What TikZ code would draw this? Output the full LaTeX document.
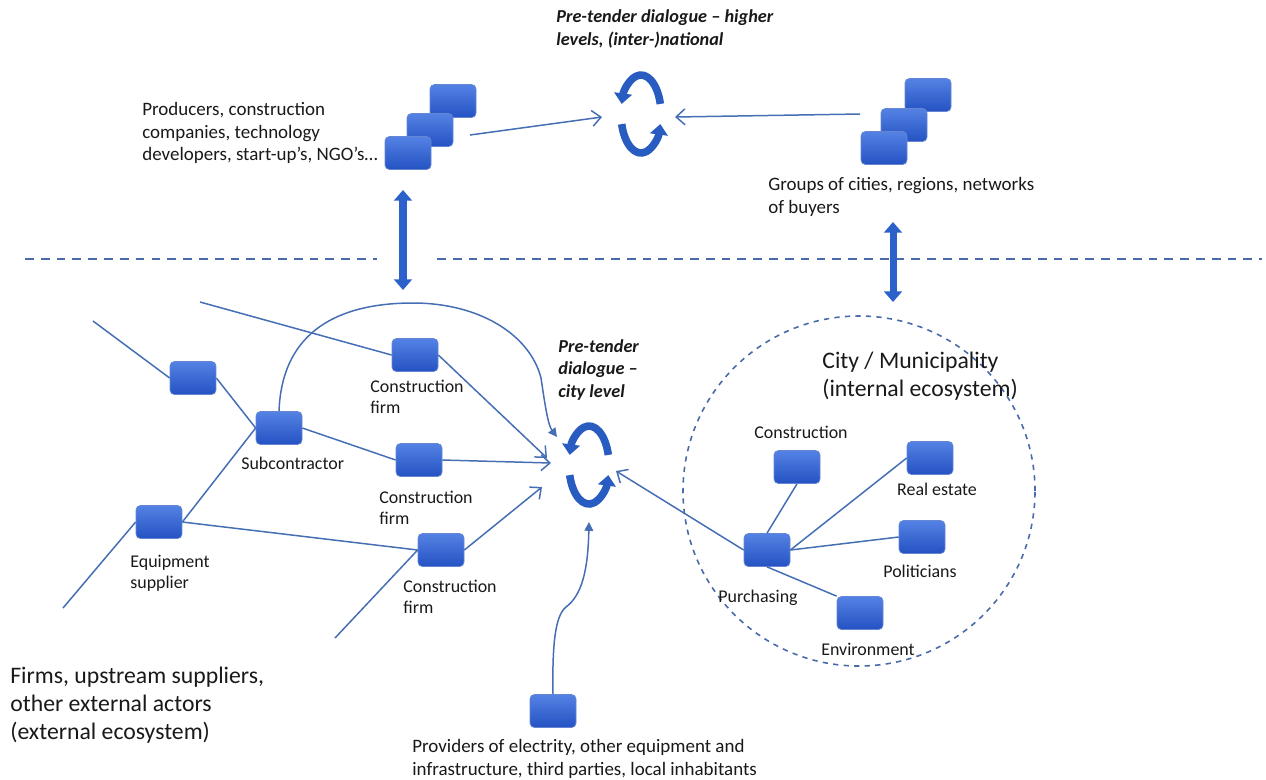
\documentclass[tikz,border=0pt]{standalone}
\usepackage{fontspec}
\setmainfont{Carlito}
\usetikzlibrary{arrows.meta}
\definecolor{boxtop}{RGB}{84,130,228}
\definecolor{boxbot}{RGB}{36,82,194}
\definecolor{lnblue}{RGB}{70,110,180}
\definecolor{cycblue}{RGB}{40,92,192}
\definecolor{dblue}{RGB}{44,96,202}
\definecolor{dashblue}{RGB}{72,106,168}
\definecolor{txt}{RGB}{25,25,25}
\begin{document}
\begin{tikzpicture}[x=0.02cm,y=0.02cm,
  bbox/.style={rectangle,rounded corners=2.5pt,minimum width=0.92cm,minimum height=0.66cm,
    top color=boxtop,bottom color=boxbot,draw=boxbot!70!white,line width=0.4pt,inner sep=0pt},
  conn/.style={draw=lnblue,line width=0.85pt},
  arr/.style={conn,-{Straight Barb[length=5pt,width=9pt]}},
  farr/.style={conn,-{Triangle[length=5pt,width=5pt]}},
  lbl/.style={font=\fontsize{10.2pt}{12.2pt}\selectfont,align=left,inner sep=0pt,text=txt},
  lblb/.style={font=\fontsize{10.8pt}{13pt}\selectfont,align=left,inner sep=0pt,text=txt},
  big/.style={font=\fontsize{13.5pt}{16pt}\selectfont,align=left,inner sep=0pt,text=txt},
  ttl/.style={font=\fontsize{10.4pt}{12.6pt}\selectfont\bfseries\itshape,align=left,inner sep=0pt,text=txt},
  dbl/.style={draw=dblue,line width=4pt,{Triangle[length=6pt,width=10pt]}-{Triangle[length=6pt,width=10pt]}},
  cycl/.style={draw=cycblue,line width=4.3pt,-{Triangle[length=6pt,width=10pt]}},
  hdash/.style={draw=dashblue,line width=1.1pt,dash pattern=on 5pt off 4pt},
  edash/.style={draw=dashblue,line width=0.9pt,dash pattern=on 3pt off 3pt},
  cycpic/.pic={
    \draw[cycl] (15:20 and 39) arc[start angle=15,end angle=165,x radius=20,y radius=39];
    \draw[cycl] (195:20 and 39) arc[start angle=195,end angle=345,x radius=20,y radius=39];
  }
]
\useasboundingbox (0,0) rectangle (1266,-779);

% separators
\draw[hdash] (25,-259) -- (377,-259);
\draw[hdash] (437,-259) -- (1262,-259);

% city ellipse
\draw[edash] (859,-491) ellipse [x radius=176, y radius=175];

% cycles
\coordinate (cyc1) at (641,-114);
\coordinate (cyc2) at (589,-465);
\pic at (cyc1) {cycpic};
\pic at (cyc2) {cycpic};

% top stacks
\node[bbox] (tl1) at (453,-101) {};
\node[bbox] (tl2) at (430,-130) {};
\node[bbox] (tl3) at (408,-153) {};
\node[bbox] (tr1) at (928,-95) {};
\node[bbox] (tr2) at (904,-125) {};
\node[bbox] (tr3) at (884,-148) {};

% left network boxes
\node[bbox] (boxA) at (193,-378) {};
\node[bbox] (sub) at (279,-428) {};
\node[bbox] (equip) at (159,-522) {};
\node[bbox] (firm1) at (415,-355) {};
\node[bbox] (firm2) at (419,-460) {};
\node[bbox] (firm3) at (441,-550) {};
\node[bbox] (bot) at (553,-711) {};

% city boxes
\node[bbox] (cons) at (797,-467) {};
\node[bbox] (real) at (930,-458) {};
\node[bbox] (pol) at (922,-537) {};
\node[bbox] (purch) at (767,-550) {};
\node[bbox] (env) at (860,-613) {};

% free ends
\coordinate (p1) at (93,-321);
\coordinate (p2) at (63,-608);
\coordinate (p3) at (335,-638);
\coordinate (p4) at (200,-302);
\coordinate (t1) at (547,-458);
\coordinate (t2) at (551,-463);
\coordinate (t3) at (542,-487);
\coordinate (t4) at (557,-437);
\coordinate (t5) at (589,-522);
\coordinate (t6) at (616,-471);
\coordinate (s1) at (470,-135);
\coordinate (s2) at (602,-117);
\coordinate (s3) at (860,-114);
\coordinate (s4) at (675,-117);
\coordinate (d1a) at (403,-190);
\coordinate (d1b) at (403,-290);
\coordinate (d2a) at (893,-222);
\coordinate (d2b) at (893,-302);

% connectors
\draw[conn] (p1) -- (boxA.west);
\draw[conn] (boxA.east) -- (sub.west);
\draw[conn] (equip.east) -- (sub.west);
\draw[conn] (p2) -- (equip.west);
\draw[conn] (equip.east) -- (firm3.west);
\draw[conn] (p3) -- (firm3.west);
\draw[conn] (p4) -- (firm1.west);
\draw[conn] (sub.east) -- (firm2.west);
\draw[arr] (firm1.east) -- (t1);
\draw[arr] (firm2.east) -- (t2);
\draw[arr] (firm3.east) -- (t3);
\draw[farr] (sub.north) .. controls (282,-330) and (340,-303) .. (413,-303)
  .. controls (480,-303) and (530,-335) .. (541,-378)
  .. controls (545,-405) and (548,-425) .. (t4);
\draw[farr] (bot.north) .. controls (552,-640) and (556,-615) .. (566,-607)
  .. controls (582,-595) and (588,-570) .. (t5);
\draw[arr] (purch.west) -- (t6);
\draw[conn] (purch.north) -- (cons.south);
\draw[conn] (purch.east) -- (real.west);
\draw[conn] (purch.east) -- (pol.west);
\draw[conn] (purch.south) -- (env.north west);
\draw[arr] (s1) -- (s2);
\draw[arr] (s3) -- (s4);
\draw[dbl] (d1a) -- (d1b);
\draw[dbl] (d2a) -- (d2b);

% texts
\node[ttl,anchor=west] (ttop) at (556,-29) {Pre-tender dialogue -- higher\\levels, (inter-)national};
\node[ttl,anchor=west] (tcity) at (558,-370) {Pre-tender\\dialogue --\\city level};
\node[lblb,anchor=west] (tprod) at (142,-133) {Producers, construction\\companies, technology\\developers, start-up’s, NGO’s…};
\node[lblb,anchor=west] (tgrp) at (768,-197) {Groups of cities, regions, networks\\of buyers};
\node[lbl,anchor=west] (lf1) at (370,-397) {Construction\\firm};
\node[lbl,anchor=west] (lf2) at (379,-508) {Construction\\firm};
\node[lbl,anchor=west] (lf3) at (403,-597) {Construction\\firm};
\node[lbl,anchor=west] (lsub) at (241,-463) {Subcontractor};
\node[lbl,anchor=west] (leq) at (130,-573) {Equipment\\supplier};
\node[big,anchor=west] (lcity) at (822,-376) {City / Municipality\\(internal ecosystem)};
\node[big,anchor=west] (lfirms) at (10,-705) {Firms, upstream suppliers,\\other external actors\\(external ecosystem)};
\node[lblb,anchor=west] (lprov) at (412,-759) {Providers of electrity, other equipment and\\infrastructure, third parties, local inhabitants};
\node[lbl] (lcons) at (801,-432) {Construction};
\node[lbl] (lreal) at (937,-489) {Real estate};
\node[lbl] (lpol) at (920,-571) {Politicians};
\node[lbl] (lpur) at (758,-598) {Purchasing};
\node[lbl] (lenv) at (868,-649) {Environment};
\end{tikzpicture}
\end{document}
